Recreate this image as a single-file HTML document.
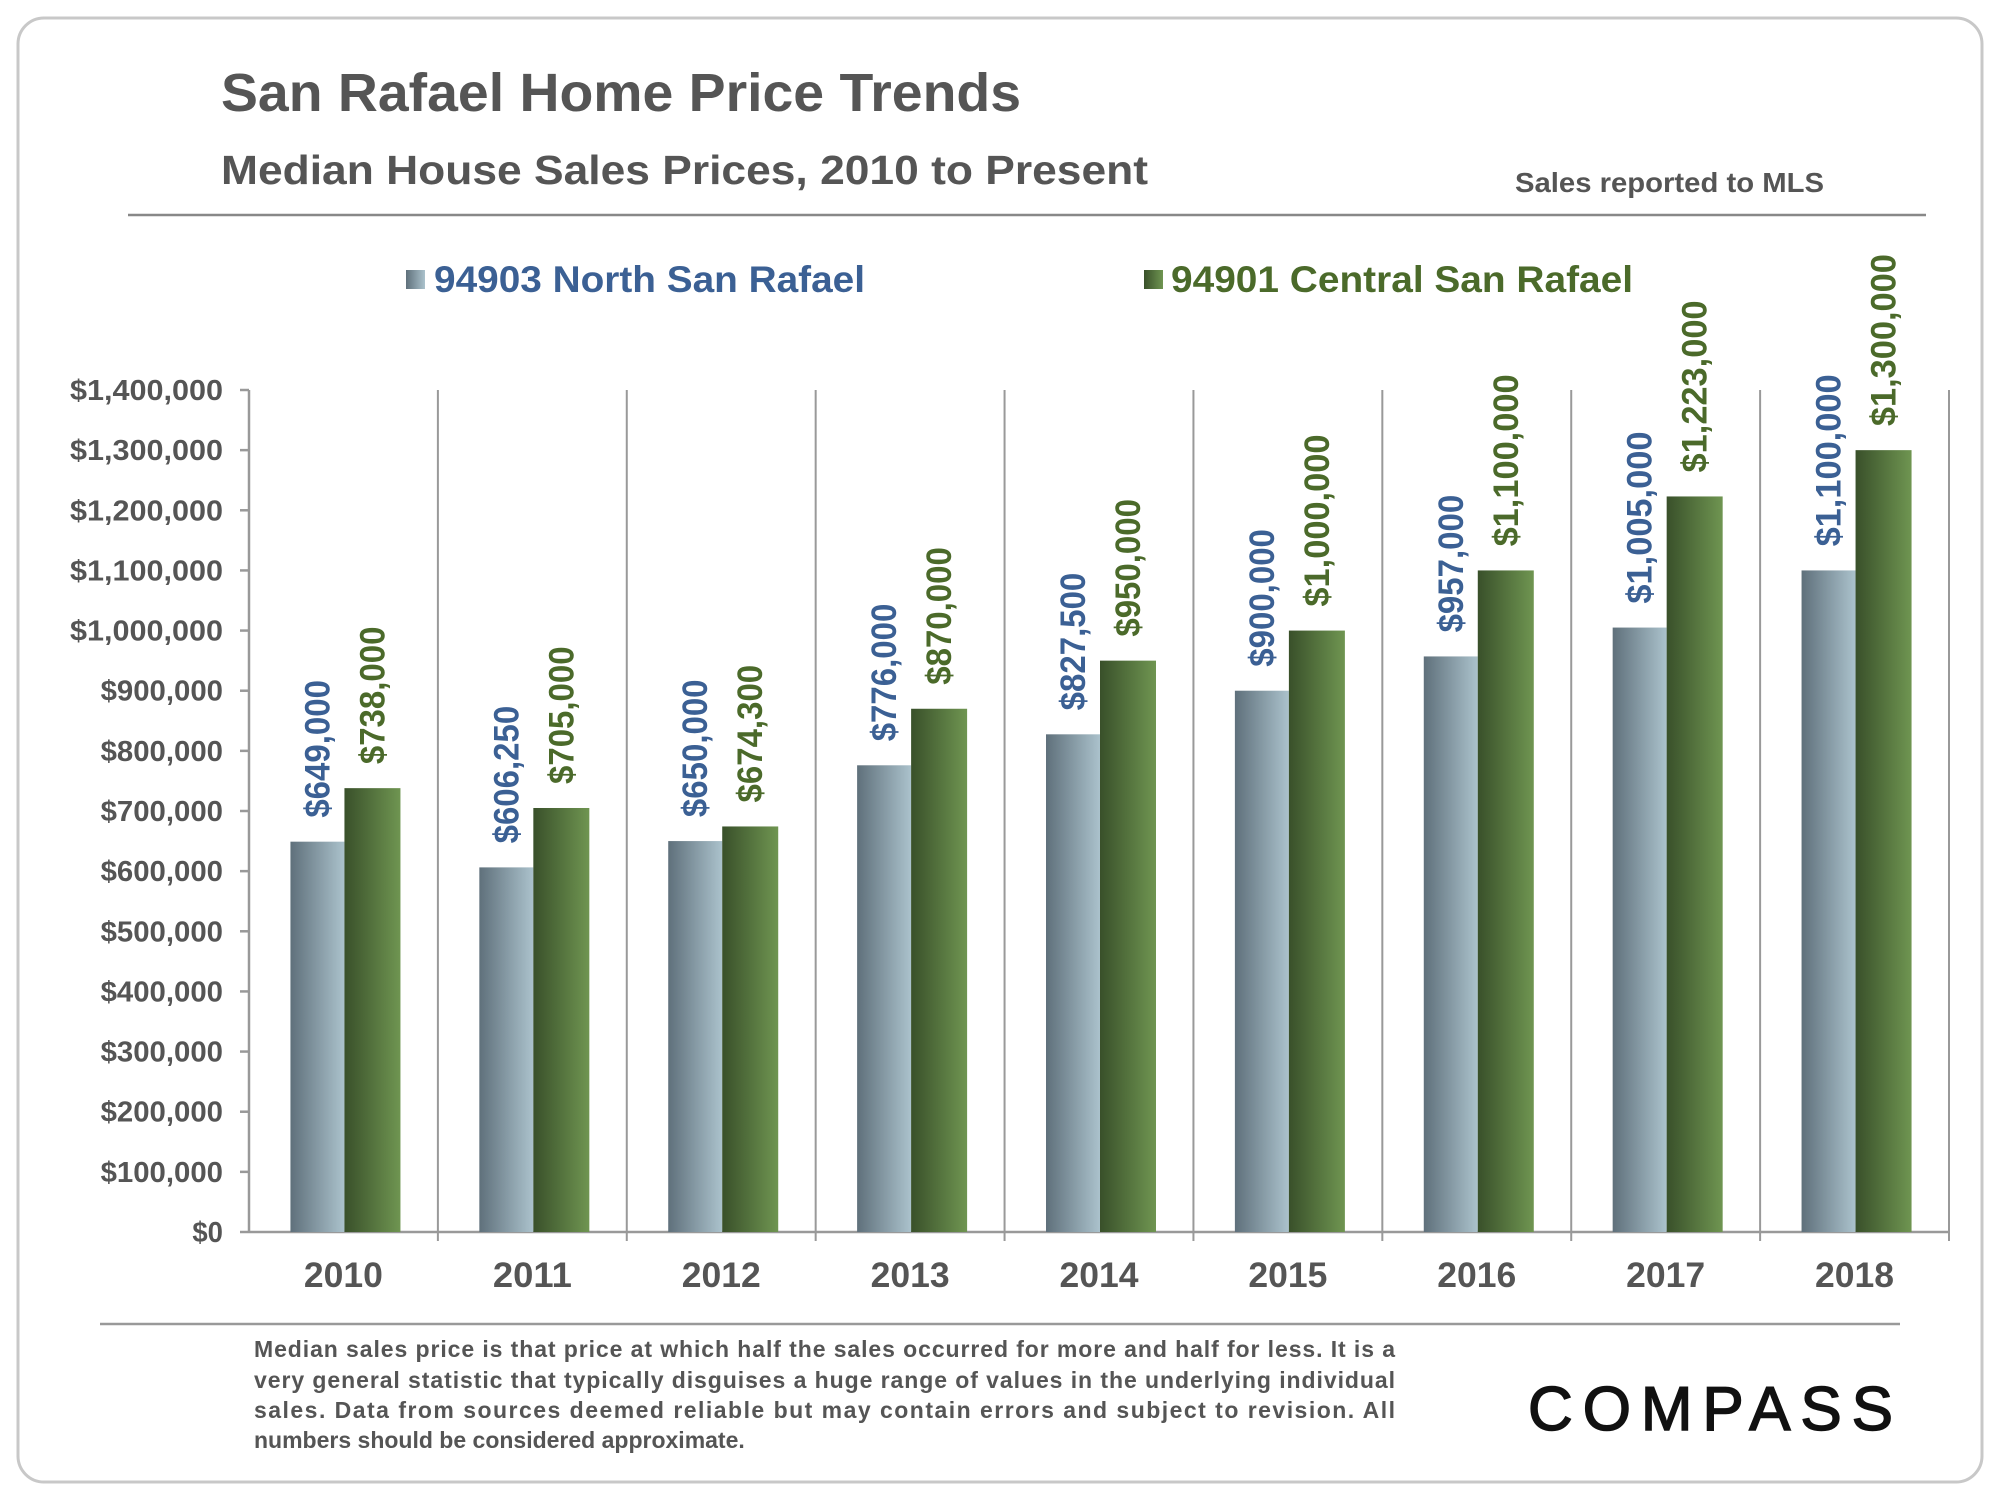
<!DOCTYPE html>
<html><head><meta charset="utf-8"><style>
html,body{margin:0;padding:0;background:#fff;}
svg{display:block;font-family:"Liberation Sans",Arial,sans-serif;}
</style></head><body>
<svg id="chart" width="2000" height="1500" viewBox="0 0 2000 1500" xmlns="http://www.w3.org/2000/svg">
<defs>
<linearGradient id="gBlue" x1="0" x2="1" y1="0" y2="0"><stop offset="0" stop-color="#5f707b"/><stop offset="1" stop-color="#abc2cc"/></linearGradient>
<linearGradient id="gGreen" x1="0" x2="1" y1="0" y2="0"><stop offset="0" stop-color="#39502a"/><stop offset="1" stop-color="#6f9551"/></linearGradient>
</defs>
<rect x="18" y="18" width="1964" height="1464" rx="26" fill="#fff" stroke="#c8c8c8" stroke-width="3"/>
<text x="221" y="111" font-size="54" font-weight="bold" fill="#555" textLength="800" lengthAdjust="spacingAndGlyphs">San Rafael Home Price Trends</text>
<text x="221" y="184" font-size="41" font-weight="bold" fill="#555" textLength="927" lengthAdjust="spacingAndGlyphs">Median House Sales Prices, 2010 to Present</text>
<text x="1515" y="192" font-size="28" font-weight="bold" fill="#555" textLength="309" lengthAdjust="spacingAndGlyphs">Sales reported to MLS</text>
<line x1="128" y1="215" x2="1926" y2="215" stroke="#888" stroke-width="2.5"/>
<g>
<g>
<rect x="406" y="270" width="19" height="19" fill="url(#gBlue)"/>
<text x="434" y="292" font-size="37" font-weight="bold" fill="#3b6094" textLength="431" lengthAdjust="spacingAndGlyphs">94903 North San Rafael</text>
</g>
<g>
<rect x="1144" y="270" width="19" height="19" fill="url(#gGreen)"/>
<text x="1171" y="292" font-size="37" font-weight="bold" fill="#4b6a2a" textLength="462" lengthAdjust="spacingAndGlyphs">94901 Central San Rafael</text>
</g>
</g>
<g id="plot"></g>
<line x1="100" y1="1324" x2="1900" y2="1324" stroke="#999" stroke-width="2.5"/>
<g font-size="23" font-weight="bold" fill="#555">
<text x="254" y="1357" textLength="1141" lengthAdjust="spacing">Median sales price is that price at which half the sales occurred for more and half for less. It is a</text>
<text x="254" y="1388" textLength="1141" lengthAdjust="spacing">very general statistic that typically disguises a huge range of values in the underlying individual</text>
<text x="254" y="1418" textLength="1141" lengthAdjust="spacing">sales. Data from sources deemed reliable but may contain errors and subject to revision. All</text>
<text x="254" y="1448">numbers should be considered approximate.</text>
</g>
<text x="1528" y="1430" font-size="62" fill="#111" stroke="#111" stroke-width="1.5" textLength="365" lengthAdjust="spacing">COMPASS</text>
</svg>
<script>
const years = ["2010","2011","2012","2013","2014","2015","2016","2017","2018"];
const northValues = [649000,606250,650000,776000,827500,900000,957000,1005000,1100000];
const centralValues = [738000,705000,674300,870000,950000,1000000,1100000,1223000,1300000];
const northLabels = ["$649,000","$606,250","$650,000","$776,000","$827,500","$900,000","$957,000","$1,005,000","$1,100,000"];
const centralLabels = ["$738,000","$705,000","$674,300","$870,000","$950,000","$1,000,000","$1,100,000","$1,223,000","$1,300,000"];
const yTicks = [0,100000,200000,300000,400000,500000,600000,700000,800000,900000,1000000,1100000,1200000,1300000,1400000];
const yTickLabels = ["$0","$100,000","$200,000","$300,000","$400,000","$500,000","$600,000","$700,000","$800,000","$900,000","$1,000,000","$1,100,000","$1,200,000","$1,300,000","$1,400,000"];

const NS="http://www.w3.org/2000/svg";
const g=document.getElementById('plot');
const X0=249,X1=1949,Y0=1232,Y1=390,YMAX=1400000;
const catW=(X1-X0)/years.length;
const y=v=>Y0-(v/YMAX)*(Y0-Y1);
const xc=i=>X0+catW*(i+0.5);
function mk(tag,attrs){const e=document.createElementNS(NS,tag);for(const k in attrs)e.setAttribute(k,attrs[k]);g.appendChild(e);return e;}

let a=mk('line',{x1:X0,y1:Y1,x2:X0,y2:Y0,stroke:'#999','stroke-width':2.5});


a=mk('line',{x1:X0,y1:Y0,x2:X1,y2:Y0,stroke:'#999','stroke-width':2.5});


yTicks.forEach((v,i)=>{
  const t=mk('line',{x1:X0-9,y1:y(v),x2:X0,y2:y(v),stroke:'#999','stroke-width':2.5});
  
  
  const s=yTickLabels[i];
  const l=mk('text',{x:223-s.length*15.3,y:y(v)+10,'font-size':29,'font-weight':'bold',fill:'#555',textLength:s.length*15.3,lengthAdjust:'spacingAndGlyphs'});
  l.textContent=s;
  
  
});
for(let i=1;i<=years.length;i++){
  const gx=X0+catW*i;
  const s=mk('line',{x1:gx,y1:Y1,x2:gx,y2:Y0+9,stroke:'#999','stroke-width':2});
  
  
}
const BW=54;
years.forEach((yr,i)=>{
  const c=xc(i)+1;
  const bn=mk('rect',{x:c-BW,y:y(northValues[i]),width:BW,height:Y0-y(northValues[i]),fill:'url(#gBlue)'});
  
  
  const bc=mk('rect',{x:c,y:y(centralValues[i]),width:BW+2,height:Y0-y(centralValues[i]),fill:'url(#gGreen)'});
  
  
  const sn=northLabels[i], sc=centralLabels[i];
  const ln=mk('text',{transform:`translate(${c-BW/2+12},${y(northValues[i])-24}) rotate(-90)`,'font-size':35,'font-weight':'bold',fill:'#3b6094',textLength:sn.length*17.2,lengthAdjust:'spacingAndGlyphs'});
  ln.textContent=sn;
  
  
  const lc=mk('text',{transform:`translate(${c+BW/2+13},${y(centralValues[i])-24}) rotate(-90)`,'font-size':35,'font-weight':'bold',fill:'#4b6a2a',textLength:sc.length*17.2,lengthAdjust:'spacingAndGlyphs'});
  lc.textContent=sc;
  
  
  const xl=mk('text',{x:xc(i),y:1287,'font-size':35,'font-weight':'bold',fill:'#555','text-anchor':'middle',textLength:79,lengthAdjust:'spacingAndGlyphs'});
  xl.textContent=yr;
  
  
});
</script>
</body></html>
